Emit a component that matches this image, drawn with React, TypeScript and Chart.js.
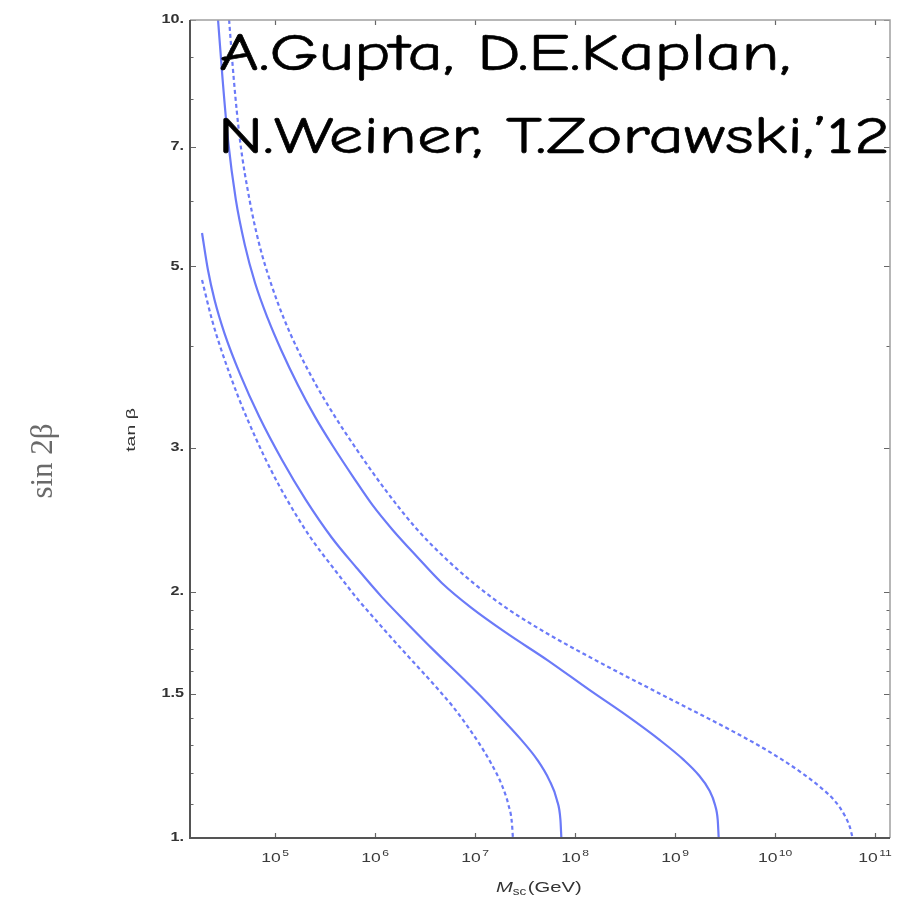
import React, { useEffect, useRef } from 'react';
import { Chart, registerables } from 'chart.js';

Chart.register(...registerables);

// ---------- data ----------
const upperSolidM = [2.69e4, 2.99e4, 3.38e4, 4.05e4, 4.98e4, 6.31e4, 8.43e4, 1.15e5, 1.69e5, 2.52e5, 3.81e5, 6.07e5, 9.48e5, 1.5e6, 2.6e6, 4.65e6, 9.27e6, 2.07e7, 5.28e7, 1.39e8, 3.32e8, 7.0e8, 1.22e9, 1.72e9, 2.19e9, 2.51e9, 2.67e9, 2.73e9];
const upperSolidTan = [10, 8.45, 7.14, 6.03, 5.31, 4.77, 4.32, 3.95, 3.58, 3.27, 3.01, 2.76, 2.55, 2.38, 2.21, 2.05, 1.91, 1.78, 1.65, 1.517, 1.41, 1.318, 1.246, 1.194, 1.145, 1.097, 1.052, 1.0];

const upperDashedM = [3.47e4, 3.87e4, 4.45e4, 5.55e4, 6.97e4, 9.06e4, 1.22e5, 1.69e5, 2.57e5, 4.0e5, 6.61e5, 1.28e6, 2.58e6, 5.2e6, 1.06e7, 2.2e7, 4.95e7, 1.58e8, 7.43e8, 3.58e9, 8.2e9, 1.8e10, 2.9e10, 3.88e10, 4.94e10, 5.6e10, 5.96e10];
const upperDashedTan = [10, 8.45, 7.14, 6.03, 5.31, 4.77, 4.32, 3.95, 3.58, 3.27, 2.98, 2.66, 2.39, 2.19, 2.03, 1.9, 1.786, 1.651, 1.496, 1.355, 1.281, 1.204, 1.151, 1.113, 1.067, 1.031, 1.0];

const lowerSolidM = [1.86e4, 2.13e4, 2.48e4, 3.12e4, 4.51e4, 6.97e4, 1.17e5, 2.03e5, 3.68e5, 6.52e5, 1.17e6, 2.12e6, 3.85e6, 7.8e6, 1.24e7, 1.91e7, 2.9e7, 4.19e7, 5.52e7, 6.58e7, 7.14e7, 7.29e7];
const lowerSolidTan = [5.49, 4.95, 4.55, 4.14, 3.68, 3.27, 2.9, 2.59, 2.33, 2.14, 1.97, 1.827, 1.697, 1.561, 1.475, 1.394, 1.318, 1.246, 1.177, 1.113, 1.052, 1.0];

const lowerDashedM = [1.86e4, 2.34e4, 2.9e4, 4.29e4, 6.5e4, 9.06e4, 1.32e5, 2.26e5, 3.92e5, 6.81e5, 1.12e6, 1.8e6, 2.75e6, 4.16e6, 6.04e6, 8.24e6, 1.09e7, 1.44e7, 1.85e7, 2.16e7, 2.33e7, 2.39e7];
const lowerDashedTan = [4.81, 4.3, 3.95, 3.46, 3.07, 2.82, 2.59, 2.33, 2.13, 1.954, 1.822, 1.707, 1.613, 1.525, 1.446, 1.374, 1.307, 1.235, 1.161, 1.097, 1.046, 1.0];

const xTickValues = [1e5, 1e6, 1e7, 1e8, 1e9, 1e10, 1e11];
const xTickBase = '10';
const xTickExponents = ['5', '6', '7', '8', '9', '10', '11'];
const yTickValues = [1, 1.5, 2, 3, 5, 7, 10];
const yTickLabels = ['1.', '1.5', '2.', '3.', '5.', '7.', '10.'];
const yMinorTicks = [1.1, 1.2, 1.3, 1.4, 1.6, 1.7, 1.8, 1.9, 4, 6, 8, 9];

const X_MIN = 1.41e4;
const X_MAX = 1.41e11;
const Y_MIN = 1;
const Y_MAX = 10;

const titleLine1 = 'A.Gupta, D.E.Kaplan,';
const titleLine2 = 'N.Weiner, T.Zorawski,’12';

const LINE_COLOR = '#6b7af8';
const SANS = '"Liberation Sans", Arial, Helvetica, sans-serif';
const STRETCH = 1.35;

const toPoints = (xs: number[], ys: number[]) => xs.map((x, i) => ({ x, y: ys[i] }));

const decorPlugin = {
  id: 'decor',
  afterDatasetsDraw(chart: any) {
    const { ctx, chartArea } = chart;
    const { left, right, top, bottom } = chartArea;
    const xs = chart.scales.x;
    const ys = chart.scales.y;
    ctx.save();
    // ticks inside the frame
    ctx.strokeStyle = '#666';
    ctx.lineWidth = 1.2;
    ctx.beginPath();
    xTickValues.forEach((v) => {
      const px = Math.round(xs.getPixelForValue(v)) + 0.5;
      ctx.moveTo(px, bottom);
      ctx.lineTo(px, bottom - 5);
      ctx.moveTo(px, top);
      ctx.lineTo(px, top + 5);
    });
    yTickValues.forEach((v) => {
      const py = Math.round(ys.getPixelForValue(v)) + 0.5;
      ctx.moveTo(left, py);
      ctx.lineTo(left + 6, py);
      ctx.moveTo(right, py);
      ctx.lineTo(right - 6, py);
    });
    yMinorTicks.forEach((v) => {
      const py = Math.round(ys.getPixelForValue(v)) + 0.5;
      ctx.moveTo(left, py);
      ctx.lineTo(left + 3.5, py);
      ctx.moveTo(right, py);
      ctx.lineTo(right - 3.5, py);
    });
    ctx.stroke();
    // frame
    ctx.strokeStyle = '#a0a0a0';
    ctx.lineWidth = 1.5;
    ctx.beginPath();
    ctx.moveTo(left, top);
    ctx.lineTo(right, top);
    ctx.lineTo(right, bottom);
    ctx.stroke();
    ctx.strokeStyle = '#555';
    ctx.lineWidth = 2;
    ctx.beginPath();
    ctx.moveTo(left, top);
    ctx.lineTo(left, bottom);
    ctx.lineTo(right, bottom);
    ctx.stroke();

    // y tick labels
    ctx.fillStyle = '#333';
    ctx.textBaseline = 'middle';
    ctx.textAlign = 'right';
    ctx.font = `bold 12px ${SANS}`;
    yTickValues.forEach((v, i) => {
      const py = ys.getPixelForValue(v);
      ctx.save();
      ctx.translate(184, py);
      ctx.scale(STRETCH, 1);
      ctx.fillText(yTickLabels[i], 0, 0);
      ctx.restore();
    });
    // x tick labels (10 with superscript exponent)
    ctx.textAlign = 'left';
    ctx.textBaseline = 'alphabetic';
    ctx.fillStyle = '#3a3a3a';
    xTickValues.forEach((v, i) => {
      const px = xs.getPixelForValue(v);
      ctx.font = `13px ${SANS}`;
      const wb = ctx.measureText(xTickBase).width;
      ctx.font = `9px ${SANS}`;
      const we = ctx.measureText(xTickExponents[i]).width;
      const total = (wb + 1 + we) * STRETCH;
      ctx.save();
      ctx.translate(px - total / 2, 862);
      ctx.scale(STRETCH, 1);
      ctx.font = `13px ${SANS}`;
      ctx.fillText(xTickBase, 0, 0);
      ctx.font = `9px ${SANS}`;
      ctx.fillText(xTickExponents[i], wb + 1, -6);
      ctx.restore();
    });
    ctx.restore();
  },
  afterDraw(chart: any) {
    const { ctx } = chart;
    ctx.save();
    // y-axis label tan beta
    ctx.fillStyle = '#333';
    ctx.textAlign = 'center';
    ctx.textBaseline = 'middle';
    ctx.save();
    ctx.translate(131, 430);
    ctx.rotate(-Math.PI / 2);
    ctx.scale(1.5, 1);
    ctx.font = `13px ${SANS}`;
    ctx.fillText('tan β', 0, 0);
    ctx.restore();
    // outer label sin 2beta
    ctx.save();
    ctx.translate(44, 461);
    ctx.rotate(-Math.PI / 2);
    ctx.fillStyle = '#6a6a6a';
    ctx.font = '31px "Liberation Serif", "Times New Roman", serif';
    ctx.fillText('sin 2β', 0, 0);
    ctx.restore();
    // x-axis title M_sc(GeV)
    ctx.fillStyle = '#333';
    ctx.textAlign = 'left';
    ctx.textBaseline = 'alphabetic';
    const fM = `italic 15px ${SANS}`;
    const fSub = `10px ${SANS}`;
    const fRest = `15px ${SANS}`;
    ctx.font = fM;
    const wM = ctx.measureText('M').width;
    ctx.font = fSub;
    const wS = ctx.measureText('sc').width;
    ctx.save();
    ctx.translate(496, 892);
    ctx.scale(STRETCH, 1);
    ctx.font = fM;
    ctx.fillText('M', 0, 0);
    ctx.font = fSub;
    ctx.fillText('sc', wM, 3);
    ctx.font = fRest;
    ctx.fillText('(GeV)', wM + wS + 1, 0);
    ctx.restore();
    // annotation
    ctx.fillStyle = '#000';
    ctx.strokeStyle = '#000';
    ctx.lineWidth = 0.6;
    ctx.lineJoin = 'round';
    ctx.font = '53px "Comic Sans MS", "Comic Neue", Lato, sans-serif';
    const w2 = ctx.measureText(titleLine2).width;
    const sx = 672 / w2;
    ctx.save();
    ctx.translate(219, 70);
    ctx.scale(sx, 1);
    ctx.fillText(titleLine1, 0, 0);
    ctx.strokeText(titleLine1, 0, 0);
    ctx.restore();
    ctx.save();
    ctx.translate(218, 153);
    ctx.scale(sx, 1);
    ctx.fillText(titleLine2, 0, 0);
    ctx.strokeText(titleLine2, 0, 0);
    ctx.restore();
    ctx.restore();
  },
};

export default function App() {
  const canvasRef = useRef<HTMLCanvasElement | null>(null);

  useEffect(() => {
    if (!canvasRef.current) return;
    const mk = (xs: number[], ys: number[], dashed: boolean) => ({
      data: toPoints(xs, ys),
      borderColor: LINE_COLOR,
      borderWidth: 2.2,
      borderDash: dashed ? [4, 3] : [],
      pointRadius: 0,
      fill: false,
      cubicInterpolationMode: 'monotone',
    });
    const chart = new Chart(canvasRef.current, {
      type: 'line',
      data: {
        datasets: [
          mk(upperSolidM, upperSolidTan, false),
          mk(upperDashedM, upperDashedTan, true),
          mk(lowerSolidM, lowerSolidTan, false),
          mk(lowerDashedM, lowerDashedTan, true),
        ],
      },
      options: {
        responsive: false,
        animation: false,
        devicePixelRatio: 1,
        layout: { padding: { left: 0, top: 20, right: 18, bottom: 0 } },
        plugins: {
          legend: { display: false },
          tooltip: { enabled: false },
        },
        scales: {
          x: {
            type: 'logarithmic',
            min: X_MIN,
            max: X_MAX,
            grid: { display: false, drawTicks: false },
            border: { display: false },
            afterBuildTicks: (scale: any) => {
              scale.ticks = xTickValues.map((v) => ({ value: v }));
            },
            afterFit: (scale: any) => {
              scale.height = 61;
            },
            ticks: { display: false },
          },
          y: {
            type: 'logarithmic',
            min: Y_MIN,
            max: Y_MAX,
            grid: { display: false, drawTicks: false },
            border: { display: false },
            afterBuildTicks: (scale: any) => {
              scale.ticks = yTickValues.map((v) => ({ value: v }));
            },
            afterFit: (scale: any) => {
              scale.width = 190;
            },
            ticks: { display: false },
          },
        },
      },
      plugins: [decorPlugin],
    } as any);
    return () => chart.destroy();
  }, []);

  return (
    <div style={{ position: 'absolute', left: 0, top: 0, width: 908, height: 899, background: '#fff' }}>
      <canvas ref={canvasRef} width={908} height={899} style={{ display: 'block', width: 908, height: 899 }} />
    </div>
  );
}
